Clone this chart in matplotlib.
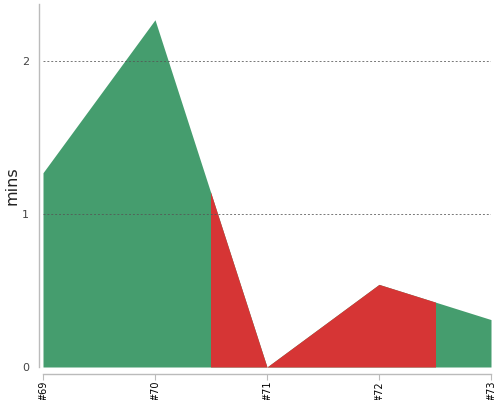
import numpy as np
import matplotlib
matplotlib.use("Agg")
import matplotlib.pyplot as plt
from matplotlib.patches import Rectangle

# run ids and minutes per run
runs = ["#69", "#70", "#71", "#72", "#73"]
mins = [1.27, 2.27, 0.0, 0.54, 0.31]
# which stretch of the area is red (in run-index units)
red_from, red_to = 1.5, 3.5

green = "#459d6e"
red = "#d63535"

fig = plt.figure(figsize=(5, 4), dpi=100)
ax = fig.add_axes([43 / 500, 33 / 400, 448 / 500, 363 / 400])

x = np.arange(len(runs))
ax.fill_between(x, 0, mins, color=green, linewidth=0, zorder=1)
red_area = ax.fill_between(x, 0, mins, color=red, linewidth=0, zorder=2)
red_area.set_clip_path(Rectangle((red_from, 0), red_to - red_from, 10,
                                 transform=ax.transData))

ax.set_xlim(0, len(runs) - 1)
ax.set_ylim(0, 2.373)

ax.set_xticks(x)
ax.set_xticklabels(runs)
ax.set_yticks([0, 1, 2])
ax.set_yticklabels(["0", "1", "2"])

ax.tick_params(axis="x", length=4, width=0.8, color="#bbbbbb", pad=1,
               labelrotation=90, labelsize=7, labelcolor="black")
ax.tick_params(axis="y", length=0, pad=7, labelsize=8, labelcolor="#444444")

for s in ["top", "right"]:
    ax.spines[s].set_visible(False)
ax.spines["left"].set_position(("outward", 3))
ax.spines["bottom"].set_position(("outward", 5))
for s in ["left", "bottom"]:
    ax.spines[s].set_color("#bbbbbb")
    ax.spines[s].set_linewidth(1)

# dashed gridlines drawn over the areas
for yv in [1, 2]:
    ax.axhline(yv, color="#555555", linewidth=0.7, linestyle=(0, (2, 2)),
               alpha=0.8, zorder=3)

ax.set_ylabel("mins", fontsize=11.5, color="#222222", labelpad=2)

fig.savefig("out.png")
